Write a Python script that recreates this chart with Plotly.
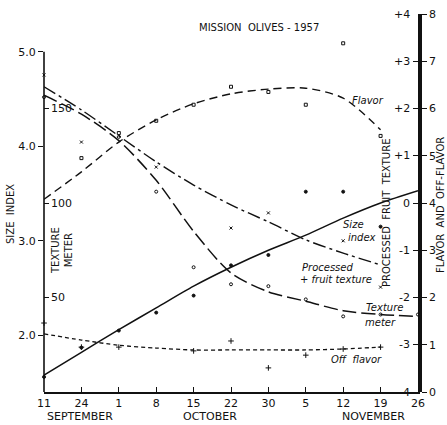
import plotly.graph_objects as go

# ---- data ----
dates = ["Sep 11", "Sep 24", "Oct 1", "Oct 8", "Oct 15", "Oct 22",
         "Oct 30", "Nov 5", "Nov 12", "Nov 19", "Nov 26"]
day_labels = ["11", "24", "1", "8", "15", "22", "30", "5", "12", "19", "26"]
months = ["SEPTEMBER", "OCTOBER", "NOVEMBER"]

size_fit = [1.58, 1.82, 2.06, 2.29, 2.52, 2.72, 2.90, 3.06, 3.24, 3.40, 3.53]
size_obs = [1.56, 1.87, 2.05, 2.24, 2.42, 2.74, 2.85, 3.52, 3.52, 3.15, None]

texture_fit = [157, 147, 133, 112, 85, 63, 53, 48, 43, 41, 40]
texture_obs = [156, None, 135, 106, 66, 57, 56, 49, 40, 41, 41]

processed_fit = [2.46, 1.97, 1.42, 0.87, 0.38, -0.04, -0.40, -0.78, -1.06, -1.31, None]
processed_obs = [2.71, 1.29, None, 0.76, None, -0.53, -0.21, None, -0.80, -1.78, None]

flavor_fit = [4.08, 4.66, 5.29, 5.76, 6.10, 6.31, 6.41, 6.43, 6.22, 5.55, None]
flavor_obs = [None, 4.95, 5.48, 5.74, 6.08, 6.46, 6.35, 6.08, 7.38, 5.42, None]

offflavor_fit = [1.23, 1.10, 0.99, 0.93, 0.89, 0.89, 0.89, 0.89, 0.91, 0.95, None]
offflavor_obs = [1.46, 0.95, 0.95, None, 0.87, 1.08, 0.51, 0.78, 0.91, 0.95, None]

size_ticks = [2, 3, 4, 5]
texture_ticks = [50, 100, 150]
processed_ticks = [-4, -3, -2, -1, 0, 1, 2, 3, 4]
flavor_ticks = [0, 1, 2, 3, 4, 5, 6, 7, 8]

# ---- figure ----
W, H = 447, 425
ML, MR, MT, MB = 44, 26, 14, 33
PW, PH = W - ML - MR, H - MT - MB
FONT = "DejaVu Sans"
INK = "#111111"

xpos = list(range(len(dates)))  # sampling dates are equally spaced on the chart


def px(xp):
    return (xp - ML) / PW


def py(yp):
    return (H - MB - yp) / PH


fig = go.Figure()

def line(y, axis, dash, width=1.4):
    fig.add_trace(go.Scatter(x=xpos, y=y, yaxis=axis, mode="lines",
                             line=dict(color=INK, width=width, dash=dash, shape="spline", smoothing=0.8),
                             connectgaps=False, showlegend=False, hoverinfo="skip", cliponaxis=False))

def pts(y, axis, symbol, size=4):
    fig.add_trace(go.Scatter(x=xpos, y=y, yaxis=axis, mode="markers",
                             marker=dict(symbol=symbol, size=size, color=INK,
                                         line=dict(color=INK, width=1)),
                             showlegend=False, hoverinfo="skip", cliponaxis=False))

line(size_fit, "y", "solid", 1.5)
pts(size_obs, "y", "circle", 3)
line(texture_fit, "y2", "14px,5px", 1.5)
pts(texture_obs, "y2", "circle-open", 3)
line(processed_fit, "y3", "13px,4px,3px,4px", 1.4)
pts(processed_obs, "y3", "x-thin", 3)
line(flavor_fit, "y4", "8px,5px", 1.4)
pts(flavor_obs, "y4", "square-open", 3)
line(offflavor_fit, "y4", "4px,3px", 1.3)
pts(offflavor_obs, "y4", "cross-thin", 4)

tickfont = dict(family=FONT, size=11, color=INK)
xd = 374 / PW

fig.update_layout(
    width=W, height=H,
    margin=dict(l=ML, r=MR, t=MT, b=MB, autoexpand=False),
    paper_bgcolor="white", plot_bgcolor="white",
    font=dict(family=FONT, color=INK),
    xaxis=dict(domain=[0, xd], range=[-0.001, len(dates) - 1 + 0.001],
               tickvals=xpos, ticktext=day_labels, ticks="inside", ticklen=5,
               tickcolor=INK, showline=True, linecolor=INK, linewidth=1.5,
               showgrid=False, zeroline=False, tickfont=tickfont, automargin=False),
    yaxis=dict(range=[1.4, 5.4], tickvals=size_ticks,
               ticktext=[f"{v:.1f}" for v in size_ticks], ticks="outside", ticklen=5,
               tickcolor=INK, showline=False, showgrid=False, zeroline=False,
               tickfont=tickfont, automargin=False),
    yaxis2=dict(range=[0, 200], overlaying="y", side="left", anchor="x",
                tickvals=texture_ticks, ticks="inside", ticklen=5, tickcolor=INK,
                showticklabels=False, showline=False, showgrid=False,
                zeroline=False, automargin=False),
    yaxis3=dict(range=[-4, 4], overlaying="y", side="right", anchor="x",
                tickvals=processed_ticks, showticklabels=False,
                ticks="inside", ticklen=5, tickcolor=INK,
                showline=True, linecolor=INK, linewidth=1.5, showgrid=False,
                zeroline=False, automargin=False),
    yaxis4=dict(range=[0, 8], overlaying="y", side="right", anchor="free",
                position=1.0, tickvals=flavor_ticks, ticks="outside", ticklen=5,
                tickcolor=INK, showline=True, linecolor=INK, linewidth=1.5,
                showgrid=False, zeroline=False, tickfont=tickfont, automargin=False),
)

# left axis line only up to 5.0
fig.add_shape(type="line", xref="x domain", yref="y", x0=0, x1=0, y0=1.4, y1=5.0,
              line=dict(color=INK, width=1.6))

ann = []
# processed-fruit-texture tick labels, drawn inside the right axis
for v in processed_ticks:
    ann.append(dict(text=("+" if v > 0 else "") + str(v), x=xd, y=v, xref="paper", yref="y3",
                    xanchor="right", yanchor="middle", xshift=-6, showarrow=False,
                    font=tickfont))
# texture-meter tick labels, drawn inside the left axis
for v in texture_ticks:
    ann.append(dict(text=str(v), x=0, y=v, xref="paper", yref="y2",
                    xanchor="left", yanchor="middle", xshift=5, showarrow=False,
                    font=tickfont))

def text(t, x, y, size=10, angle=0, xanchor="center", italic=False):
    ann.append(dict(text=(f"<i>{t}</i>" if italic else t), x=px(x), y=py(y),
                    xref="paper", yref="paper", showarrow=False, textangle=angle,
                    xanchor=xanchor, yanchor="middle",
                    font=dict(family=FONT, size=size, color=INK)))

text("MISSION  OLIVES - 1957", 259, 27, 10)
text("SIZE  INDEX", 10, 214, 10, -90)
text("TEXTURE<br>METER", 62, 251, 10, -90)
text("PROCESSED  FRUIT  TEXTURE", 386, 213, 10, -90)
text("FLAVOR  AND  OFF-FLAVOR", 440, 205, 10, -90)
for m, xp in zip(months, [80, 210, 373]):
    text(m, xp, 416, 11)
text("Flavor", 368, 100, 10, italic=True)
text("Size", 353, 225, 10, italic=True)
text("index", 362, 237, 10, italic=True)
text("Processed", 327, 267, 10, italic=True)
text("+ fruit texture", 336, 279, 10, italic=True)
text("Texture", 384, 307, 10, italic=True)
text("meter", 380, 322, 10, italic=True)
text("Off  flavor", 356, 359, 10, italic=True)
fig.update_layout(annotations=ann)

fig.write_html("out.html", config={"displayModeBar": False},
               post_script="document.body.style.margin='0';")
